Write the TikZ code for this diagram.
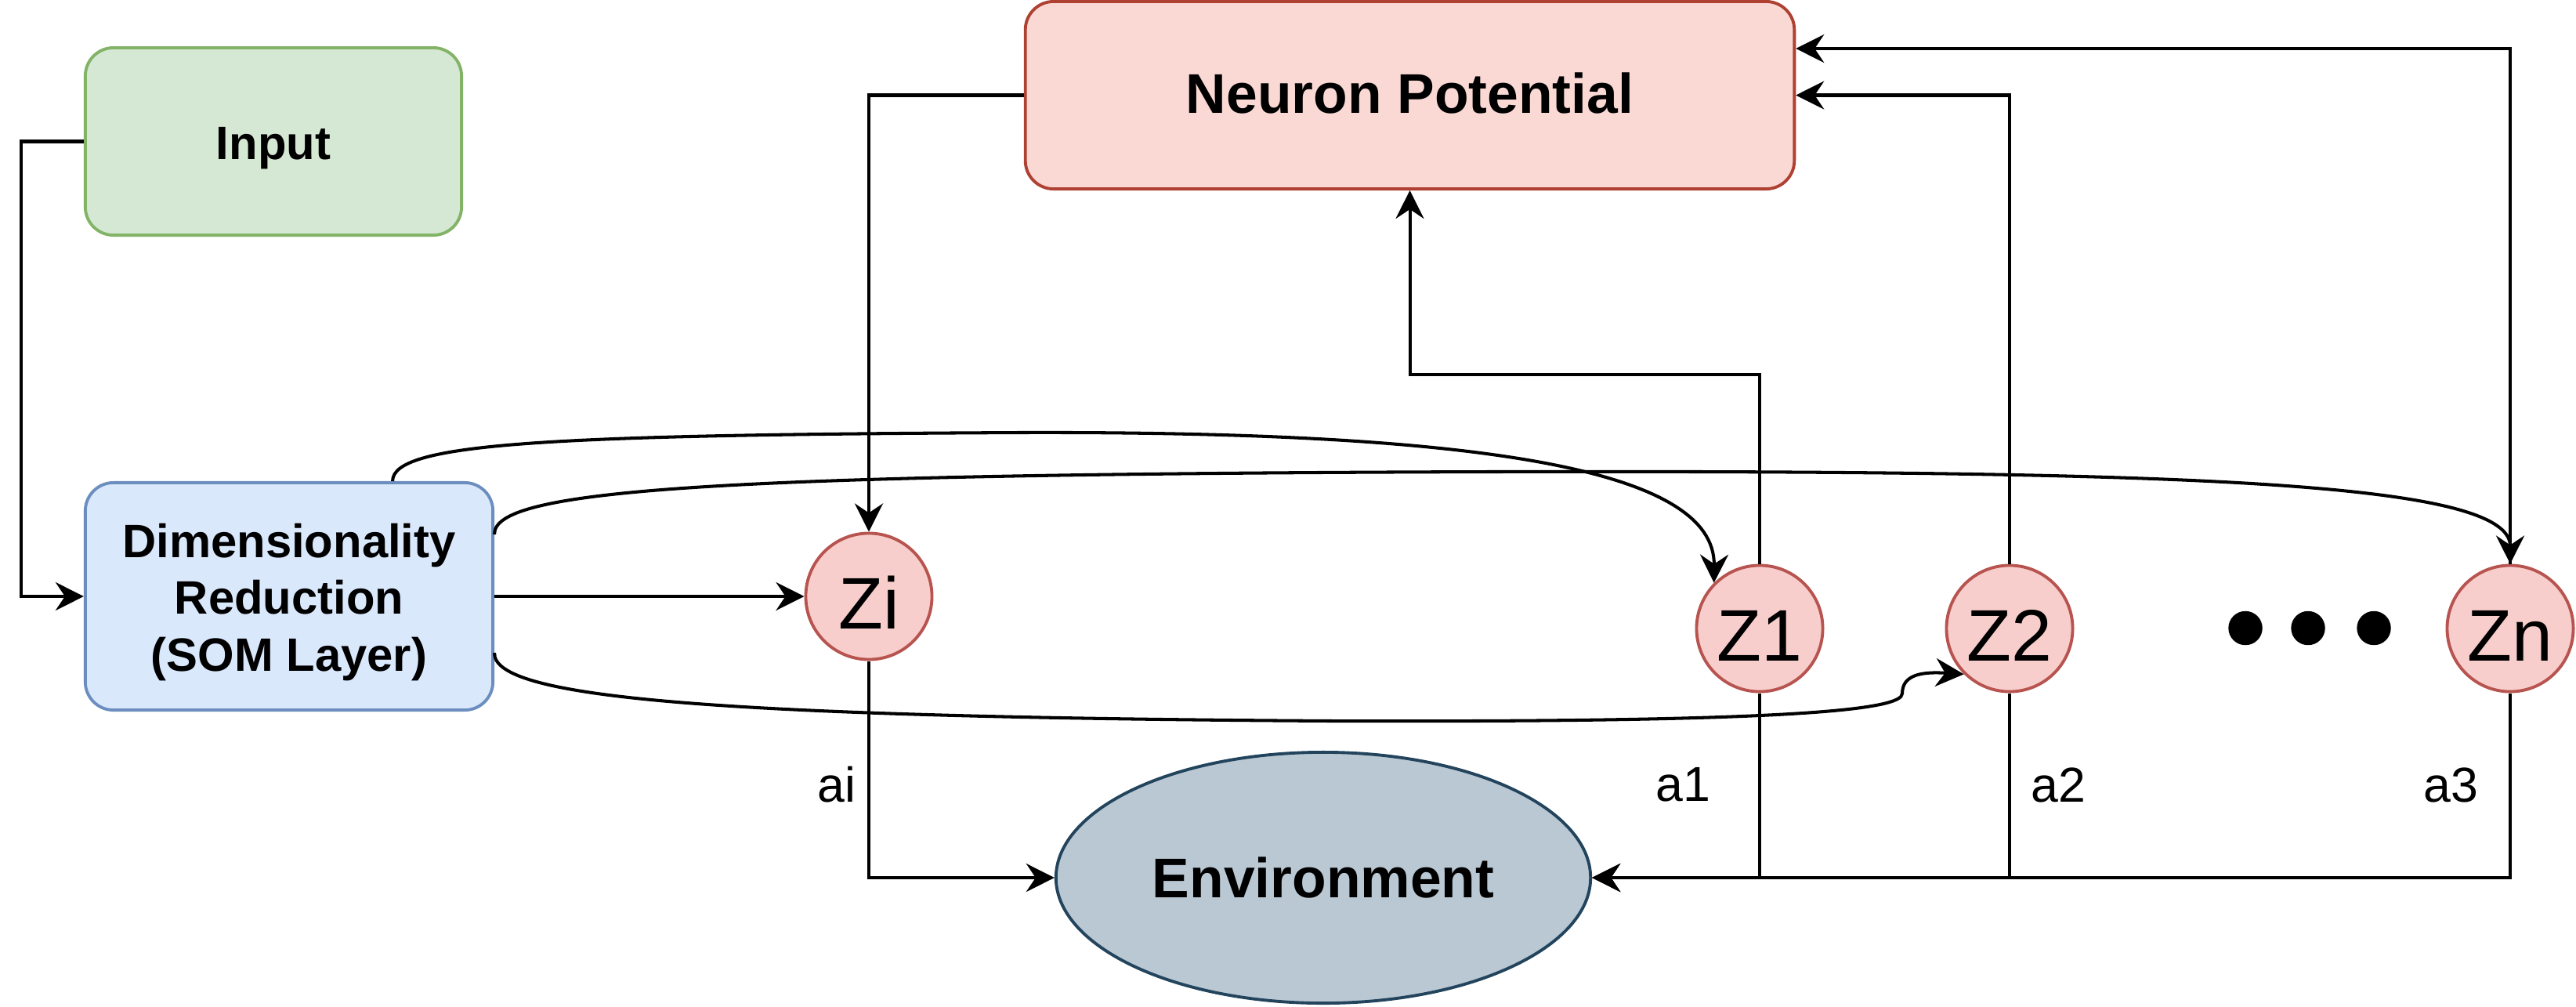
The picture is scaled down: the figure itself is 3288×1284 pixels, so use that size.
\documentclass[tikz,border=0pt]{standalone}
\usepackage{fontspec}
\setmainfont{Liberation Sans}
\usetikzlibrary{shapes.geometric,arrows.meta}
\definecolor{ingreen}{HTML}{D5E8D4}
\definecolor{ingreenD}{HTML}{82B366}
\definecolor{drblue}{HTML}{DAE8FC}
\definecolor{drblueD}{HTML}{6C8EBF}
\definecolor{npred}{HTML}{FAD9D5}
\definecolor{npredD}{HTML}{AE4132}
\definecolor{zred}{HTML}{F8CECC}
\definecolor{zredD}{HTML}{B85450}
\definecolor{envF}{HTML}{BAC8D3}
\definecolor{envD}{HTML}{23445D}
\begin{document}
\begin{tikzpicture}[x=0.01cm,y=-0.01cm,
 box/.style={draw, line width=1.1pt, rounded corners=0.36cm, inner sep=0, align=center,
   font=\bfseries\fontsize{17}{20.6}\selectfont},
 boxtext/.style={font=\bfseries\fontsize{17}{20.6}\selectfont, align=center, inner sep=0},
 znode/.style={circle, draw=zredD, fill=zred, line width=1.1pt, minimum size=1.61cm, inner sep=0,
   text height=0.83cm, text depth=0pt, font=\fontsize{26.5}{30}\selectfont},
 arr/.style={line width=1.15pt, -{Stealth[length=0.36cm,width=0.36cm,inset=0.12cm]}},
 lbl/.style={font=\fontsize{17.8}{21}\selectfont, inner sep=0}
]
\useasboundingbox (0,0) rectangle (3288,1284);

% nodes
\node[box, draw=ingreenD, fill=ingreen, minimum width=4.8cm, minimum height=2.39cm,
  label={[name=intext, boxtext, yshift=-0.083cm]center:Input}] (in) at (349,180.5) {};
\node[box, draw=drblueD, fill=drblue, minimum width=5.2cm, minimum height=2.9cm,
  label={[name=drtext, boxtext, yshift=-0.075cm]center:Dimensionality\\Reduction\\(SOM Layer)}] (dr) at (369,761) {};
\node[box, draw=npredD, fill=npred, minimum width=9.81cm, minimum height=2.39cm,
  text height=0.45cm, text depth=0pt,
  font=\bfseries\fontsize{20.3}{24}\selectfont] (np) at (1799.5,121.5) {Neuron Potential};
\node[znode] (zi) at (1109,761) {Zi};
\node[znode] (z1) at (2246,802) {Z1};
\node[znode] (z2) at (2565,802) {Z2};
\node[znode] (zn) at (3204,802) {Zn};
\node[ellipse, draw=envD, fill=envF, line width=1.1pt, minimum width=6.82cm, minimum height=3.2cm, inner sep=0,
  font=\bfseries\fontsize{20.3}{24}\selectfont] (env) at (1689,1120) {Environment};

% dots
\fill (2866,801.5) circle[radius=0.217cm];
\fill (2946,801.5) circle[radius=0.217cm];
\fill (3030,801.5) circle[radius=0.217cm];

% labels
\node[lbl] (lai) at (1068,1001.5) {ai};
\node[lbl] (la1) at (2148.5,1001.5) {a1};
\node[lbl] (la2) at (2627,1001.5) {a2};
\node[lbl] (la3) at (3128,1001.5) {a3};

% straight connectors
\draw[arr] (in.west) -- ++(-80,0) |- (dr.west);
\draw[arr] (dr.east) -- (zi.west);
\draw[arr] (np.west) -| (zi.north);
\draw[arr] (z1.north) -- ++(0,-242) -| (np.south);
\draw[arr] (z2.north) |- (np.east);
\draw[arr] (zn.north) |- ([yshift=0.595cm]np.east);
\draw[arr] (zi.south) |- (env.west);
\draw[arr] (z1.south) |- (env.east);
\draw[arr] (z2.south) |- (env.east);
\draw[arr] (zn.south) |- (env.east);

% curved connectors
\draw[arr] ([xshift=1.32cm]dr.north) .. controls (501,565) and (700,555) .. (1300,552)
  .. controls (1900,550) and (2189,600) .. (z1.north west);
\draw[arr] ([yshift=0.79cm]dr.east) .. controls (629,625) and (900,605) .. (1900,602)
  .. controls (2800,600) and (3204,615) .. (zn.north);
\draw[arr] ([yshift=-0.72cm]dr.east) .. controls (629,890) and (900,915) .. (1700,920)
  .. controls (2300,922) and (2428,905) .. (2428,885)
  .. controls (2428,860) and (2455,857) .. (z2.south west);
\end{tikzpicture}
\end{document}
